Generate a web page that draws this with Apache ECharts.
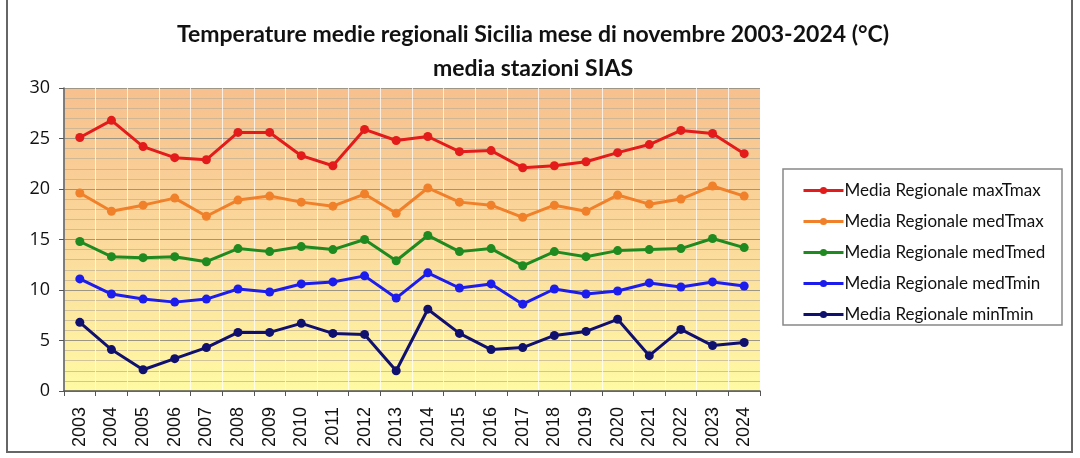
<!DOCTYPE html>
<html>
<head>
<meta charset="utf-8">
<script src="https://cdn.jsdelivr.net/npm/echarts@6/dist/echarts.min.js"></script>
<style>
    html, body { margin: 0; padding: 0; background: #fff; }
    #main { width: 1080px; height: 458px; }
</style>
</head>
<body>
<div id="main"></div>
<script>
    var anni = ['2003', '2004', '2005', '2006', '2007', '2008', '2009', '2010', '2011', '2012', '2013',
        '2014', '2015', '2016', '2017', '2018', '2019', '2020', '2021', '2022', '2023', '2024'];

    var maxTmax = [25.1, 26.8, 24.2, 23.1, 22.9, 25.6, 25.6, 23.3, 22.3, 25.9, 24.8,
        25.2, 23.7, 23.8, 22.1, 22.3, 22.7, 23.6, 24.4, 25.8, 25.5, 23.5];
    var medTmax = [19.6, 17.8, 18.4, 19.1, 17.3, 18.9, 19.3, 18.7, 18.3, 19.5, 17.6,
        20.1, 18.7, 18.4, 17.2, 18.4, 17.8, 19.4, 18.5, 19.0, 20.3, 19.3];
    var medTmed = [14.8, 13.3, 13.2, 13.3, 12.8, 14.1, 13.8, 14.3, 14.0, 15.0, 12.9,
        15.4, 13.8, 14.1, 12.4, 13.8, 13.3, 13.9, 14.0, 14.1, 15.1, 14.2];
    var medTmin = [11.1, 9.6, 9.1, 8.8, 9.1, 10.1, 9.8, 10.6, 10.8, 11.4, 9.2,
        11.7, 10.2, 10.6, 8.6, 10.1, 9.6, 9.9, 10.7, 10.3, 10.8, 10.4];
    var minTmin = [6.8, 4.1, 2.1, 3.2, 4.3, 5.8, 5.8, 6.7, 5.7, 5.6, 2.0,
        8.1, 5.7, 4.1, 4.3, 5.5, 5.9, 7.1, 3.5, 6.1, 4.5, 4.8];

    var nomi = ['Media Regionale maxTmax', 'Media Regionale medTmax', 'Media Regionale medTmed',
        'Media Regionale medTmin', 'Media Regionale minTmin'];
    var colori = ['#e31b1b', '#f0802a', '#1f8a1f', '#1c1ced', '#10106e'];
    var dati = [maxTmax, medTmax, medTmed, medTmin, minTmin];

    var serie = [];
    for (var i = 0; i < dati.length; i++) {
        serie.push({
            name: nomi[i],
            type: 'line',
            data: dati[i],
            symbol: 'circle',
            symbolSize: 9,
            lineStyle: { width: 3, color: colori[i] },
            itemStyle: { color: colori[i] }
        });
    }

    var myChart = echarts.init(document.getElementById('main'));
    myChart.setOption({
        animation: false,
        title: {
            left: 528,
            textAlign: 'center',
            top: 13,
            text: 'Temperature medie regionali Sicilia mese di novembre 2003-2024 (°C)\nmedia stazioni SIAS',
            textStyle: {
                fontFamily: 'Lato',
                fontWeight: 'bold',
                fontSize: 23,
                lineHeight: 34,
                color: '#111'
            }
        },
        graphic: [
            {
                type: 'rect',
                shape: { x: 7, y: -10, width: 1065, height: 462 },
                style: { fill: 'none', stroke: '#666', lineWidth: 2 },
                silent: true
            },
            {
                type: 'rect',
                shape: { x: 783, y: 169, width: 279, height: 156 },
                style: { fill: '#fff', stroke: '#888', lineWidth: 1.5 },
                silent: true,
                z: 0
            }
        ],
        legend: {
            orient: 'vertical',
            left: 797,
            top: 177,
            itemGap: 14,
            itemWidth: 40,
            itemHeight: 9,
            z: 10,
            lineStyle: { width: 3 },
            textStyle: { fontFamily: 'Lato', fontSize: 17, color: '#111', padding: [0, 0, 0, -4] },
            data: nomi
        },
        grid: {
            left: 64,
            right: 320,
            top: 88,
            bottom: 67,
            show: true,
            borderWidth: 0,
            backgroundColor: new echarts.graphic.LinearGradient(0, 0, 0, 1, [
                { offset: 0, color: '#f7c08e' },
                { offset: 0.5, color: '#fbd99c' },
                { offset: 1, color: '#fffaa4' }
            ])
        },
        xAxis: {
            type: 'category',
            data: anni,
            boundaryGap: true,
            axisLine: { lineStyle: { color: '#555', width: 1.5 } },
            axisTick: { show: true, length: 5, lineStyle: { color: '#555' } },
            splitLine: { show: true, lineStyle: { color: 'rgba(255,255,255,0.75)', width: 1 } },
            axisLabel: {
                rotate: 90,
                margin: 16,
                fontFamily: 'Liberation Sans',
                fontSize: 18,
                color: '#111'
            }
        },
        yAxis: {
            type: 'value',
            min: 0,
            max: 30,
            interval: 5,
            axisLine: { show: true, lineStyle: { color: '#555', width: 1.5 } },
            axisTick: { show: true, length: 5, lineStyle: { color: '#555' } },
            splitLine: { show: true, lineStyle: { color: '#9d9684', width: 1 } },
            minorTick: { show: false, splitNumber: 5 },
            minorSplitLine: { show: true, lineStyle: { color: 'rgba(190,175,150,0.7)', width: 1 } },
            axisLabel: {
                margin: 14,
                fontFamily: 'Open Sans',
                fontSize: 18,
                color: '#111'
            }
        },
        series: serie
    });
</script>
</html>
